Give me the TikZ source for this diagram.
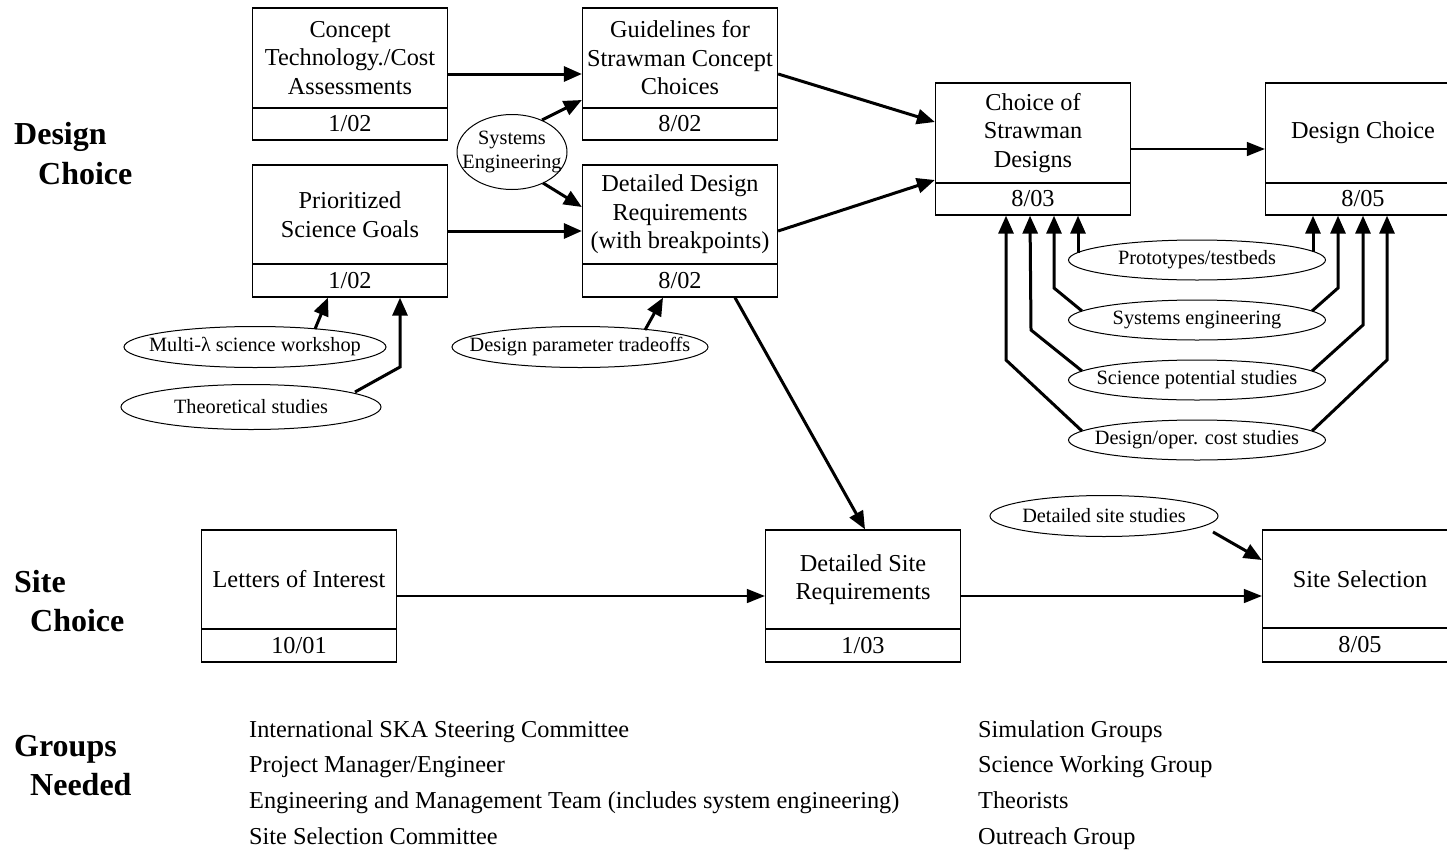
\documentclass[tikz,border=0pt]{standalone}
\usepackage{fontspec}
\setmainfont{Liberation Serif}
\usetikzlibrary{arrows.meta,shapes.geometric,calc}
\tikzset{
 boxsh/.style={draw, line width=1.3pt, minimum width=195pt, minimum height=132pt, inner sep=0pt},
 txt/.style={align=center, font=\fontsize{24.3}{28.5}\selectfont, inner sep=0pt},
 ell/.style={ellipse, draw, line width=1pt, inner sep=0pt, font=\fontsize{20.3}{24}\selectfont},
 thk/.style={line width=3pt, -{Triangle[length=18pt,width=15pt]}},
 thn/.style={line width=1.5pt, -{Triangle[length=18pt,width=14pt]}},
 lab/.style={font=\fontsize{32}{36}\selectfont\bfseries, anchor=base west, inner sep=0pt},
 grp/.style={font=\fontsize{24.3}{28}\selectfont, anchor=base west, inner sep=0pt},
}
\newcommand{\mkbox}[6]{%
 \node[boxsh] (#1) at (#2,{#3+66}) {};
 \draw[line width=1.3pt] ({#2-97.5},#4) -- ({#2+97.5},#4);
 \node[txt] (#1t) at (#2,{(#3+#4)/2}) {#5};
 \node[txt] (#1d) at (#2,{(#4+#3+132)/2}) {#6};
}
\begin{document}
\begin{tikzpicture}[x=1pt,y=-1pt]
\clip (0,0) rectangle (1447,851);
\fill[white] (0,0) rectangle (1447,851);

% left labels
\node[lab] (l1) at (14,144) {Design};
\node[lab] (l2) at (38,184) {Choice};
\node[lab] (l3) at (14,592) {Site};
\node[lab] (l4) at (30,631) {Choice};
\node[lab] (l5) at (14,756) {Groups};
\node[lab] (l6) at (30,795) {Needed};

% boxes
\mkbox{cta}{350}{8}{108}{Concept\\Technology./Cost\\Assessments}{1/02}
\mkbox{gl}{680}{8}{108}{Guidelines for\\Strawman Concept\\Choices}{8/02}
\mkbox{psg}{350}{165}{264}{Prioritized\\Science Goals}{1/02}
\mkbox{ddr}{680}{165}{264}{Detailed Design\\Requirements\\(with breakpoints)}{8/02}
\mkbox{cs}{1033}{83}{183}{Choice of\\Strawman\\Designs}{8/03}
\mkbox{dc}{1363}{83}{183}{Design Choice}{8/05}
\mkbox{loi}{299}{530}{629}{Letters of Interest}{10/01}
\mkbox{dsr}{863}{530}{629}{Detailed Site\\Requirements}{1/03}
\mkbox{ss}{1360}{530}{628}{Site Selection}{8/05}

% ellipses
\node[ell, minimum width=110pt, minimum height=75pt] (se) at (512,152)
  {\makebox[0pt]{\begin{tabular}{@{}c@{}}Systems\\Engineering\end{tabular}}};
\node[ell, minimum width=262pt, minimum height=41pt] (mls) at (255,347) {\makebox[0pt]{Multi-λ science workshop}};
\node[ell, minimum width=260pt, minimum height=45pt] (ths) at (251,407) {\makebox[0pt]{Theoretical studies}};
\node[ell, minimum width=256pt, minimum height=41pt] (dpt) at (580,347) {\makebox[0pt]{Design parameter tradeoffs}};
\node[ell, minimum width=257pt, minimum height=40pt] (proto) at (1197,260) {\makebox[0pt]{Prototypes/testbeds}};
\node[ell, minimum width=257pt, minimum height=40pt] (syse) at (1197,320) {\makebox[0pt]{Systems engineering}};
\node[ell, minimum width=257pt, minimum height=40pt] (scip) at (1197,380) {\makebox[0pt]{Science potential studies}};
\node[ell, minimum width=257pt, minimum height=40pt] (dcost) at (1197,440) {\makebox[0pt]{Design/oper. cost studies}};
\node[ell, minimum width=228pt, minimum height=41pt] (dss) at (1104,516) {\makebox[0pt]{Detailed site studies}};

% connectors
\draw[thk] (cta.east) -- (gl.west);
\draw[thk] (psg.east) -- (ddr.west);
\draw[thk] ($(se)+(30,-32)$) -- ([yshift=-26pt]gl.west);
\draw[thk] ($(se)+(31,31)$) -- ([yshift=24pt]ddr.west);
\draw[thk] (gl.east) -- ([yshift=27pt]cs.west);
\draw[thk] (ddr.east) -- ([yshift=-31pt]cs.west);
\draw[thn] (cs.east) -- (dc.west);
\draw[thk] ([xshift=55pt]ddr.south) -- ([xshift=2pt]dsr.north);
\draw[thn] (loi.east) -- (dsr.west);
\draw[thn] (dsr.east) -- (ss.west);
\draw[thk] ($(dss)+(109,16)$) -- ([yshift=36pt]ss.west);
\draw[thk] ($(mls)+(60,-18)$) -- ([xshift=-22pt]psg.south);
\draw[thk] ($(ths)+(104,-15)$) -- ($(ths)+(149,-40)$) -- ([xshift=50pt]psg.south);
\draw[thk] ($(dpt)+(65,-17)$) -- ([xshift=-17pt]ddr.south);

\draw[thk] ($(proto)+(-119,-7)$) -- ([xshift=45pt]cs.south);
\draw[thk] ($(proto)+(116,-8)$) -- ([xshift=-50pt]dc.south);
\draw[thk] ($(syse)+(-115,-9)$) -- ($(syse)+(-143,-32)$) -- ([xshift=21pt]cs.south);
\draw[thk] ($(syse)+(115,-9)$) -- ($(syse)+(141,-32)$) -- ([xshift=-25pt]dc.south);
\draw[thk] ($(scip)+(-115,-9)$) -- ($(scip)+(-166,-50)$) -- ([xshift=-3pt]cs.south);
\draw[thk] ($(scip)+(115,-9)$) -- ($(scip)+(166,-55)$) -- (dc.south);
\draw[thk] ($(dcost)+(-115,-9)$) -- ($(dcost)+(-191,-80)$) -- ([xshift=-27pt]cs.south);
\draw[thk] ($(dcost)+(115,-9)$) -- ($(dcost)+(190,-80)$) -- ([xshift=24pt]dc.south);

% groups
\node[grp] (g1) at (249,737) {International SKA Steering Committee};
\node[grp] (g2) at (249,772) {Project Manager/Engineer};
\node[grp] (g3) at (249,808) {Engineering and Management Team (includes system engineering)};
\node[grp] (g4) at (249,844) {Site Selection Committee};
\node[grp] (g5) at (978,737) {Simulation Groups};
\node[grp] (g6) at (978,772) {Science Working Group};
\node[grp] (g7) at (978,808) {Theorists};
\node[grp] (g8) at (978,844) {Outreach Group};
\end{tikzpicture}
\end{document}
